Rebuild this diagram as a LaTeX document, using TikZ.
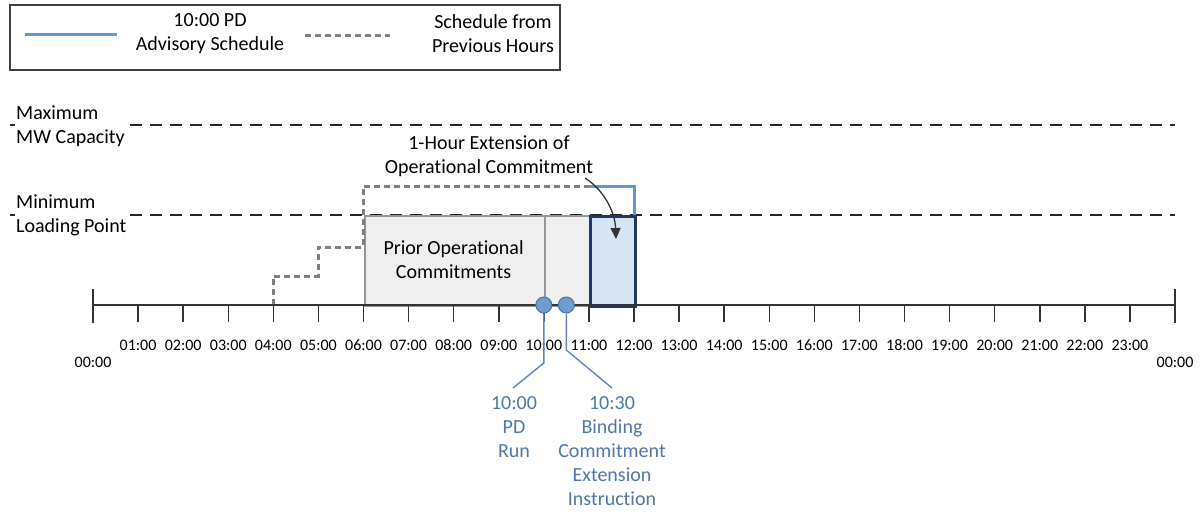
\documentclass[tikz,border=0pt]{standalone}
\usepackage{fontspec}
\setmainfont{Carlito}[Ligatures={NoCommon}]
\usetikzlibrary{arrows.meta}
\definecolor{boxgray}{RGB}{150,150,150}
\definecolor{fillgray}{RGB}{239,239,239}
\definecolor{navy}{RGB}{31,56,100}
\definecolor{lightblue}{RGB}{214,228,243}
\definecolor{schedblue}{RGB}{91,155,213}
\definecolor{prevgray}{RGB}{128,128,128}
\definecolor{dotfill}{RGB}{111,155,205}
\definecolor{dotdraw}{RGB}{72,116,170}
\definecolor{calltext}{RGB}{79,120,168}
\definecolor{callline}{RGB}{100,135,178}
\definecolor{legendborder}{RGB}{64,64,64}
\tikzset{
  txt/.style={font=\fontsize{20}{24}\selectfont, align=center, inner sep=0pt},
  lefttxt/.style={font=\fontsize{20}{24}\selectfont, align=left, inner sep=1pt, fill=white, anchor=west},
  hourlbl/.style={font=\fontsize{16}{19}\selectfont, inner sep=0pt},
  limitline/.style={black!85, line width=1.8pt, dash pattern=on 12pt off 8pt},
  prevline/.style={prevgray, line width=3pt, dash pattern=on 6pt off 4pt},
  schedline/.style={schedblue, line width=3pt},
  axisline/.style={black!80, line width=1.5pt},
  dot/.style={circle, fill=dotfill, draw=dotdraw, line width=1pt, minimum size=16pt, inner sep=0pt},
  calltxt/.style={txt, text=calltext},
  callconn/.style={callline, line width=1.4pt},
}
\begin{document}
\begin{tikzpicture}[x=1pt,y=-1pt]
\useasboundingbox (0,0) rectangle (1202,516);

% legend
\draw[legendborder, line width=1.4pt] (10,5) rectangle (560,70);
\coordinate (lgA1) at (25,35);
\coordinate (lgA2) at (117,35);
\draw[schedline] (lgA1) -- (lgA2);
\node[txt] (lgAtxt) at (210,34) {10:00 PD\\Advisory Schedule};
\coordinate (lgB1) at (305,36);
\coordinate (lgB2) at (390,36);
\draw[prevline] (lgB1) -- (lgB2);
\node[txt] (lgBtxt) at (493,34) {Schedule from\\Previous Hours};

% limit lines
\coordinate (maxL) at (10,125);
\coordinate (maxR) at (1175,125);
\draw[limitline] (maxL) -- (maxR);
\coordinate (minL) at (10,215);
\coordinate (minR) at (1175,215);
\draw[limitline] (minL) -- (minR);
\node[lefttxt] (maxtxt) at (15,126) {Maximum\\MW Capacity};
\node[lefttxt] (mintxt) at (15,215) {Minimum\\Loading Point};

% boxes
\node[draw=boxgray, fill=fillgray, line width=2.4pt, minimum width=180.3pt, minimum height=90pt, inner sep=0pt, anchor=north west] (prior) at (363.5,215) {};
\node[txt, align=center] (priortxt) at (453.6,260) {Prior Operational\\Commitments};
\node[draw=boxgray, fill=fillgray, line width=2.4pt, minimum width=45.1pt, minimum height=90pt, inner sep=0pt, anchor=north west] (prior2) at (543.8,215) {};

% previous hours schedule (dashed)
\draw[prevline] (273.3,305) -- (273.3,276) -- (318.4,276) -- (318.4,247) -- (363.5,247) -- (363.5,186) -- (588.9,186);
% advisory schedule (blue)
\draw[schedline] (588.9,186) -- (634,186) -- (634,305);

\node[draw=navy, fill=lightblue, line width=2.8pt, minimum width=45.1pt, minimum height=90pt, inner sep=0pt, anchor=north west] (ext) at (588.9,215) {};

% axis
\coordinate (ax0) at (93,305);
\coordinate (ax24) at (1175,305);
\draw[axisline] (ax0) -- (ax24);
\draw[axisline] (93,289) -- (93,323);
\draw[axisline] (1175,289) -- (1175,323);
\foreach \h in {1,...,23} {
  \draw[axisline] ({93+45.083*\h},305) -- ({93+45.083*\h},322);
}
\foreach \h/\l in {1/01,2/02,3/03,4/04,5/05,6/06,7/07,8/08,9/09,10/10,11/11,12/12,13/13,14/14,15/15,16/16,17/17,18/18,19/19,20/20,21/21,22/22,23/23} {
  \node[hourlbl] (hl\h) at ({93+45.083*\h},345) {\l:00};
}
\node[hourlbl] (hl0) at (93,362) {00:00};
\node[hourlbl] (hl24) at (1175,362) {00:00};

% arrow label
\node[txt] (exttxt) at (489,156) {1-Hour Extension of\\Operational Commitment};
\coordinate (arrS) at (585,178);
\coordinate (arrE) at (616,239);
\draw[black!80, line width=1.3pt, -{Triangle[length=11pt,width=10pt]}] (arrS) .. controls (604,190) and (615,212) .. (arrE);

% callouts
\coordinate (c1a) at (543.8,363);
\coordinate (c1b) at (513,388);
\coordinate (c2a) at (566.3,350);
\coordinate (c2b) at (612,388);
\node[dot] (pd) at (543.8,305) {};
\node[dot] (bind) at (566.3,305) {};
\draw[callconn] (pd.south) -- (c1a) -- (c1b);
\draw[callconn] (bind.south) -- (c2a) -- (c2b);
\node[calltxt, anchor=north] (pdtxt) at (514,396) {10:00\\PD\\Run};
\node[calltxt, anchor=north] (bindtxt) at (612,396) {10:30\\Binding\\Commitment\\Extension\\Instruction};
\end{tikzpicture}
\end{document}
